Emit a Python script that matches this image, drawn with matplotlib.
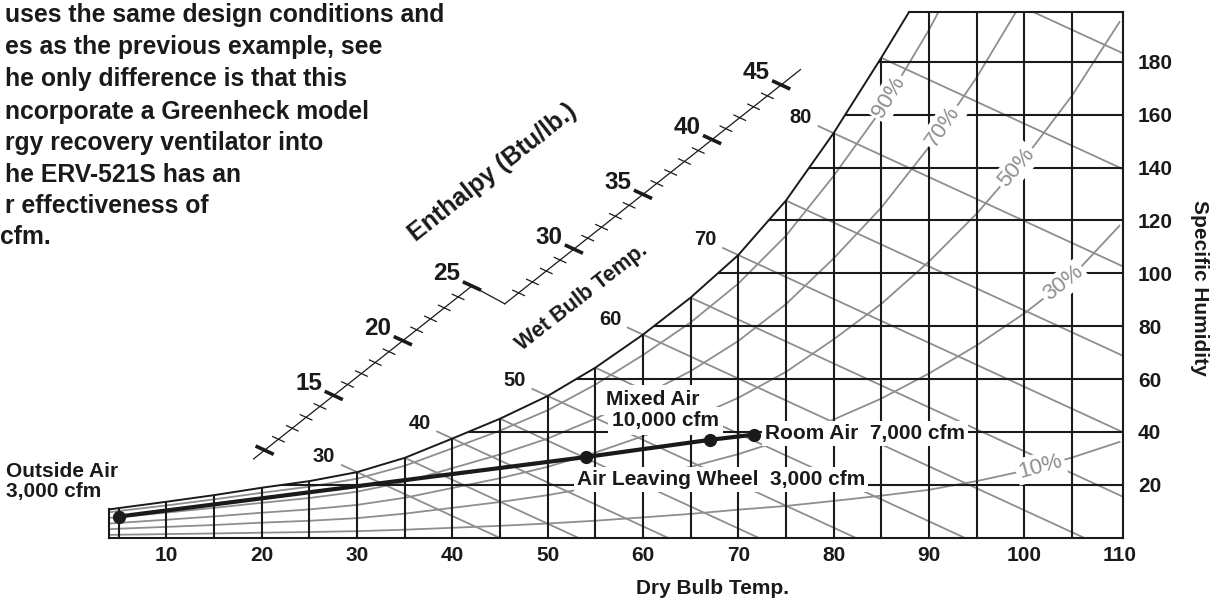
import numpy as np
import matplotlib
matplotlib.use("Agg")
import matplotlib.pyplot as plt
from matplotlib.patches import Polygon

plt.rcParams["font.family"] = ["Liberation Sans", "DejaVu Sans"]
plt.rcParams["font.weight"] = "bold"

# ---------------- data ----------------
dry_bulb_ticks = [10, 20, 30, 40, 50, 60, 70, 80, 90, 100, 110]
dry_bulb_grid = [5, 10, 15, 20, 25, 30, 35, 40, 45, 50, 55, 60, 65, 70, 75, 80, 85, 90, 95, 100, 105]
humidity_ticks = [20, 40, 60, 80, 100, 120, 140, 160, 180]

# saturation curve (dry bulb F, grains/lb)
sat_temp = [4, 5, 10, 15, 20, 25, 30, 35, 40, 45, 50, 55, 60, 65, 70, 75, 80, 85, 87.9]
sat_grains = [10.7, 11.2, 13.6, 16.1, 18.9, 21.4, 24.8, 30.2, 37.5, 45.0, 53.6, 64.3,
              76.8, 90.8, 106.9, 127.5, 153.0, 181.5, 198.7]

# relative humidity curves
rh_temp = [4, 5, 10, 15, 20, 25, 30, 35, 40, 45, 50, 55, 60, 65, 70, 75, 80, 85, 90, 95, 100, 105, 110]
rh90 = [9.6, 10.1, 12.2, 14.5, 17.0, 19.3, 22.3, 27.2, 33.8, 40.5, 48.2, 57.9, 69.1, 81.4,
        96.1, 114.2, 136.8, 161.8, 192.0, 226.0]
rh70 = [7.5, 7.8, 9.5, 11.3, 13.2, 15.0, 17.4, 21.1, 26.3, 31.5, 37.5, 45.0, 53.8, 63.0,
        74.4, 88.3, 105.6, 124.8, 147.7, 174.0, 204.0]
rh50 = [5.35, 5.6, 6.8, 8.05, 9.45, 10.7, 12.4, 15.1, 18.8, 22.5, 26.8, 32.2, 38.4, 44.9,
        52.9, 62.7, 75.0, 88.4, 104.4, 122.5, 143.3, 167.1, 195.0]
rh30 = [3.2, 3.4, 4.1, 4.8, 5.7, 6.4, 7.4, 9.1, 11.3, 13.5, 16.1, 19.3, 23.0, 26.8,
        31.6, 37.4, 44.7, 52.6, 62.1, 72.7, 84.8, 98.7, 118.0]
rh10 = [1.07, 1.12, 1.36, 1.61, 1.89, 2.14, 2.48, 3.02, 3.75, 4.5, 5.36, 6.43, 7.68, 9.0,
        10.6, 12.0, 13.9, 15.9, 18.1, 21.4, 25.3, 30.3, 36.2]
rh_values = [90, 70, 50, 30, 10]
rh_series = [rh90, rh70, rh50, rh30, rh10]
rh_label_temp = [85.8, 91.5, 99.2, 104.1, 101.7]

# wet bulb lines (start on saturation curve)
wb_temps = [30, 35, 40, 45, 50, 55, 60, 65, 70, 75, 80, 85, 90]
wb_start_grains = [24.8, 30.2, 37.5, 45.0, 53.6, 64.3, 76.8, 90.8, 106.9, 127.5, 153.0, 181.5, 217.0]
wb_labels = [30, 40, 50, 60, 70, 80]
wb_slope = 1.66  # grains per F

# enthalpy scale
enthalpy_minor = list(range(10, 46))
enthalpy_labels = [15, 20, 25, 30, 35, 40, 45]

# process points
point_names = ["Outside Air", "Air Leaving Wheel", "Mixed Air", "Room Air"]
point_temp = [5, 54, 67, 71.7]
point_grains = [8, 30.5, 37, 39]

paragraph = ["uses the same design conditions and",
             "es as the previous example, see",
             "he only difference is that this",
             "ncorporate a Greenheck model",
             "rgy recovery ventilator into",
             "he ERV-521S has an",
             "r effectiveness of",
             "cfm."]

# ---------------- layout ----------------
FW, FH = 1212, 599
AX_L, AX_R, AX_T, AX_B = 109.3, 1123.3, 12.3, 537.7
XMIN, XMAX, YMAX = 4.0, 110.4, 198.7
PXX = (AX_R - AX_L) / (XMAX - XMIN)
PXY = (AX_B - AX_T) / YMAX

BLACK = "#1a1a1a"
GRAY = "#8e8e8e"


def fp(x, y):
    return x / FW, 1 - y / FH


fig = plt.figure(figsize=(FW / 100, FH / 100), dpi=100)
ax = fig.add_axes([AX_L / FW, 1 - AX_B / FH, (AX_R - AX_L) / FW, (AX_B - AX_T) / FH])
ax.set_xlim(XMIN, XMAX)
ax.set_ylim(0, YMAX)
ax.set_facecolor("white")
for s in ["top", "left"]:
    ax.spines[s].set_visible(False)
for s in ["bottom", "right"]:
    ax.spines[s].set_linewidth(1.5)
    ax.spines[s].set_color(BLACK)

# chart region clip polygon
verts = np.column_stack([np.r_[sat_temp, XMAX, XMAX, XMIN], np.r_[sat_grains, YMAX, 0, 0]])
region = Polygon(verts, closed=True, transform=ax.transData, fc="none", ec="none")
ax.add_patch(region)

# grid
for t in dry_bulb_grid:
    l, = ax.plot([t, t], [0, YMAX], color=BLACK, lw=1.5, zorder=3)
    l.set_clip_path(region)
for w in humidity_ticks:
    l, = ax.plot([XMIN, XMAX], [w, w], color=BLACK, lw=1.5, zorder=3)
    l.set_clip_path(region)

# RH curves
for vals in rh_series:
    l, = ax.plot(rh_temp[:len(vals)], vals, color=GRAY, lw=1.3, zorder=2)
    l.set_clip_path(region)

# wet bulb lines
for twb, w0 in zip(wb_temps, wb_start_grains):
    l, = ax.plot([twb, twb + w0 / wb_slope], [w0, 0], color=GRAY, lw=1.3, zorder=2)
    l.set_clip_path(region)
    if twb in wb_labels:
        lead = 1.6
        ax.plot([twb - lead, twb], [w0 + lead * wb_slope, w0], color=GRAY, lw=1.3,
                zorder=2, clip_on=False)
        ax.annotate(str(twb), xy=(twb, w0), xytext=(-33, 15.5), textcoords="offset pixels",
                    ha="center", va="center", fontsize=14.5, color=BLACK)

# saturation curve and frame pieces
ax.plot(sat_temp, sat_grains, color=BLACK, lw=1.4, zorder=4, clip_on=False)
ax.plot([sat_temp[-1], XMAX], [YMAX, YMAX], color=BLACK, lw=1.5, zorder=4, clip_on=False)
ax.plot([XMIN, XMIN], [0, sat_grains[0]], color=BLACK, lw=1.5, zorder=4, clip_on=False)

# RH labels
fig.canvas.draw()
for rh, vals, tl in zip(rh_values, rh_series, rh_label_temp):
    tt = rh_temp[:len(vals)]
    w = np.interp(tl, tt, vals)
    p1 = ax.transData.transform((tl - 1, np.interp(tl - 1, tt, vals)))
    p2 = ax.transData.transform((tl + 1, np.interp(tl + 1, tt, vals)))
    ang = np.degrees(np.arctan2(p2[1] - p1[1], p2[0] - p1[0]))
    ax.text(tl, w, f"{rh}%", rotation=ang, rotation_mode="anchor", ha="center", va="center",
            color=GRAY, fontsize=16, fontweight="normal", zorder=5,
            bbox=dict(boxstyle="square,pad=0.12", fc="white", ec="none"))

# process line
ax.plot(point_temp, point_grains, color=BLACK, lw=3.0, zorder=7, solid_capstyle="round")
ax.plot(point_temp, point_grains, "o", color=BLACK, ms=8.5, zorder=8)

box = dict(boxstyle="square,pad=0.15", fc="white", ec="none")
lab_kw = dict(textcoords="offset pixels", ha="left", va="center", fontsize=15, color=BLACK, zorder=6)
ax.annotate("Outside Air", xy=(point_temp[0], point_grains[0]), xytext=(-112.7, 45),
            annotation_clip=False, **lab_kw)
ax.annotate("3,000 cfm", xy=(point_temp[0], point_grains[0]), xytext=(-112.7, 25),
            annotation_clip=False, **lab_kw)
ax.annotate("Air Leaving Wheel  3,000 cfm", xy=(point_temp[1], point_grains[1]), xytext=(-8.8, -22.7),
            bbox=box, **lab_kw)
ax.annotate("Mixed Air", xy=(point_temp[2], point_grains[2]), xytext=(-104, 40),
            bbox=dict(boxstyle="square,pad=0.25", fc="white", ec="none"), **lab_kw)
ax.annotate("10,000 cfm", xy=(point_temp[2], point_grains[2]), xytext=(-98, 19),
            bbox=dict(boxstyle="square,pad=0.2", fc="white", ec="none"), **lab_kw)
ax.annotate("Room Air  7,000 cfm", xy=(point_temp[3], point_grains[3]), xytext=(10.7, 1),
            bbox=box, **lab_kw)

# enthalpy scale
step = np.array([1.45, 4.14])
anchorA = np.array([42.05, 95.2])   # value 25 on lower segment
anchorB = np.array([52.75, 109.15])  # value 30 on upper segment
tick_dir = np.array([0.908 / PXX, -0.419 / PXY])


def scale_pt(v, seg):
    if seg == "A":
        return anchorA + (v - 25) * step
    return anchorB + (v - 30) * step


a0, a1 = scale_pt(9.2, "A"), scale_pt(25, "A")
b0, b1 = scale_pt(25, "B"), scale_pt(46.4, "B")
ax.plot([a0[0], a1[0]], [a0[1], a1[1]], color=BLACK, lw=0.9, clip_on=False, zorder=4)
ax.plot([a1[0], b0[0]], [a1[1], b0[1]], color=BLACK, lw=0.9, clip_on=False, zorder=4)
ax.plot([b0[0], b1[0]], [b0[1], b1[1]], color=BLACK, lw=0.9, clip_on=False, zorder=4)
for v in enthalpy_minor:
    p = scale_pt(v, "A" if v <= 25 else "B")
    major = v % 5 == 0
    half = (10 if major else 7) * tick_dir
    ax.plot([p[0] - half[0], p[0] + half[0]], [p[1] - half[1], p[1] + half[1]], color=BLACK,
            lw=2.6 if major else 0.9, clip_on=False, zorder=4, solid_capstyle="butt")
    if v in enthalpy_labels:
        ax.text(p[0] - 25 / PXX, p[1] + 12 / PXY, str(v), ha="center", va="center",
                fontsize=17.5, color=BLACK, clip_on=False)

# ticks
ax.set_xticks(dry_bulb_ticks)
ax.set_xticklabels([str(t) for t in dry_bulb_ticks])
ax.yaxis.tick_right()
ax.set_yticks(humidity_ticks)
ax.set_yticklabels([str(t) for t in humidity_ticks])
ax.tick_params(axis="x", length=0, pad=6, labelsize=15, colors=BLACK)
ax.tick_params(axis="y", length=0, pad=10.5, labelsize=15, colors=BLACK)

# texts
fig.text(*fp(713, 588), "Dry Bulb Temp.", ha="center", va="center", fontsize=15, color=BLACK)
fig.text(*fp(1199, 288), "Specific Humidity", ha="center", va="center", fontsize=15,
         rotation=270, color=BLACK)
fig.text(*fp(492.7, 172.5), "Enthalpy (Btu/lb.)", ha="center", va="center", fontsize=18,
         rotation=38.3, rotation_mode="anchor", color=BLACK)
fig.text(*fp(581.7, 297.5), "Wet Bulb Temp.", ha="center", va="center", fontsize=15.5,
         rotation=38, rotation_mode="anchor", color=BLACK)

para_y = [15, 47, 79, 111.5, 143, 175, 206, 237]
for line, y in zip(paragraph, para_y):
    fig.text(*fp(5 if line != "cfm." else 0, y), line, ha="left", va="center", fontsize=17.8,
             color=BLACK)

fig.savefig("out.png", dpi=100)
